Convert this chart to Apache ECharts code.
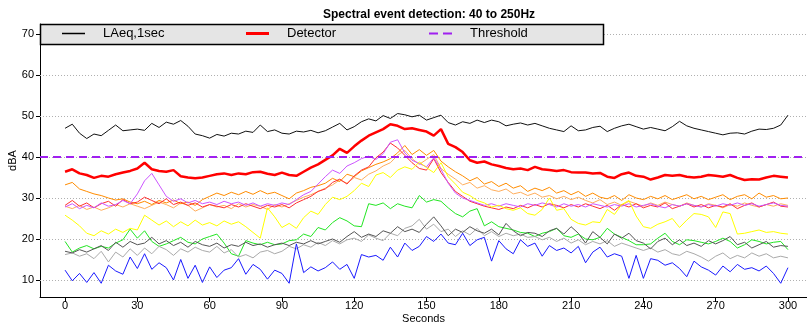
<!DOCTYPE html>
<html>
<head>
<meta charset="utf-8">
<script src="https://cdn.jsdelivr.net/npm/echarts@6/dist/echarts.min.js"></script>
<style>
  html, body { margin: 0; padding: 0; background: #fff; }
  #chart { width: 807px; height: 327px; }
</style>
</head>
<body>
<div id="chart"></div>
<script>
// sample times (every 3 s, 0..300)
const seconds = Array.from({ length: 101 }, (_, i) => i * 3)
const xTicks = [0, 30, 60, 90, 120, 150, 180, 210, 240, 270, 300]
const yTicks = [10, 20, 30, 40, 50, 60, 70]
const threshold = 40

// LAeq,1sec
const laeq = [
  47.0, 48.0, 45.8, 44.5, 45.6, 45.2, 46.5, 47.8, 46.4, 46.6,
  46.8, 46.5, 48.2, 47.2, 48.5, 48.0, 48.9, 47.5, 45.6, 45.2,
  44.6, 45.5, 45.1, 45.8, 45.6, 46.3, 46.0, 47.8, 46.2, 46.6,
  45.8, 45.6, 46.3, 46.1, 46.5, 45.9, 46.4, 47.3, 48.2, 46.6,
  47.4, 48.6, 49.3, 48.8, 50.1, 49.4, 50.6, 50.3, 49.8, 50.2,
  49.0, 49.6, 50.2, 48.4, 47.8, 48.6, 48.2, 49.0, 48.4, 49.0,
  48.6, 47.6, 48.0, 48.3, 47.8, 48.2, 47.6, 47.0, 46.6, 46.2,
  47.6, 46.4, 46.6, 47.2, 47.5, 46.2, 47.0, 47.6, 48.0, 47.4,
  46.8, 47.2, 46.8, 46.4, 47.4, 48.7, 47.6, 47.0, 46.6, 46.2,
  45.8, 45.4, 45.8, 45.9, 45.6, 46.3, 46.8, 46.7, 47.0, 47.8,
  50.2
]

// Detector
const detector = [
  36.4, 37.0, 36.0, 35.6, 34.9, 35.4, 35.2, 35.8, 36.2, 36.6,
  37.2, 38.6, 37.0, 36.6, 36.4, 36.8, 35.3, 35.0, 34.8, 35.0,
  35.4, 35.8, 36.0, 35.6, 36.0, 35.8, 36.3, 36.4, 35.9, 35.6,
  36.2, 35.6, 35.4, 36.4, 37.4, 38.2, 39.3, 40.4, 42.0, 41.0,
  42.6, 44.0, 45.2, 46.0, 46.8, 48.0, 47.6, 46.8, 47.0, 46.6,
  46.2, 45.2, 46.8, 43.2, 42.4, 41.2, 39.2, 38.6, 38.9, 38.2,
  37.8, 37.3, 37.0, 37.2, 36.8, 37.6, 37.0, 36.8, 36.6, 36.8,
  36.3, 36.2, 36.2, 36.0, 36.1, 35.2, 34.9, 35.8, 36.2, 35.4,
  35.2, 34.5, 35.0, 35.6, 35.4, 35.6, 35.2, 35.0, 35.2, 35.6,
  35.4, 35.2, 35.6, 34.9, 34.4, 34.6, 34.5, 35.0, 35.4, 35.2,
  35.0
]

// band levels
const orangeHi = [
  33.2, 33.8, 32.2, 31.6, 31.0, 30.6, 30.0, 29.5, 29.8, 29.0,
  28.6, 29.2, 28.4, 29.4, 28.8, 29.5, 28.6, 29.0, 28.2, 29.6,
  30.4, 31.2, 30.6, 31.4, 30.8, 31.6, 30.9, 31.8, 31.0, 31.4,
  30.6, 29.8, 31.2, 31.8, 32.6, 33.0, 33.6, 34.8, 34.0, 35.8,
  35.2, 36.6, 37.4, 38.2, 38.8, 39.6, 41.0, 42.8, 40.6, 41.8,
  40.4, 41.6, 39.0, 37.6, 36.4, 35.4, 34.2, 35.0, 33.4, 34.0,
  32.8, 33.6, 32.4, 33.0, 31.6, 32.4, 31.8, 32.6, 31.2, 31.8,
  30.8, 31.6, 30.4, 31.2, 30.2, 29.8, 30.6, 29.4, 30.8, 30.0,
  29.6, 30.4, 29.8, 30.6, 29.6, 30.2, 30.8, 29.8, 30.4, 29.6,
  30.2, 30.8, 29.6, 30.4, 30.8, 29.8, 31.2, 30.2, 30.6, 29.8,
  30.0
]
const orangeLo = [
  28.0, 27.4, 28.2, 27.2, 27.8, 27.0, 27.6, 28.4, 27.8, 28.6,
  28.0, 27.4, 28.2, 29.0, 28.4, 27.6, 28.8, 28.2, 26.8, 27.6,
  28.4, 27.8, 28.2, 27.4, 28.6, 27.8, 28.4, 28.0, 27.2, 28.4,
  27.8, 28.6, 29.4, 30.2, 30.8, 31.6, 32.4, 33.2, 34.4, 33.6,
  35.0, 34.4, 35.8, 36.6, 37.8, 38.6, 40.4, 41.6, 39.6, 38.2,
  39.4, 40.6, 37.2, 35.8, 34.6, 33.2, 33.8, 32.4, 33.0, 32.0,
  31.6, 32.2, 31.0, 31.4, 30.6, 31.2, 30.2, 30.6, 29.8, 30.4,
  29.6, 30.2, 29.4, 28.8, 29.6, 28.4, 29.0, 28.2, 29.2, 28.6,
  28.0, 28.8, 28.2, 29.0, 28.4, 28.0, 28.8, 28.2, 27.8, 28.6,
  28.2, 27.6, 28.4, 28.0, 28.8, 28.2, 27.8, 28.4, 28.0, 28.6,
  28.2
]
const redBand = [
  28.2, 29.4, 28.0, 28.8, 27.6, 28.6, 29.2, 28.0, 29.6, 28.6,
  29.0, 30.2, 29.4, 28.6, 29.8, 28.4, 29.0, 28.2, 28.8, 27.8,
  28.4, 28.0, 27.6, 28.4, 27.8, 28.6, 28.0, 27.4, 28.2, 27.8,
  28.4, 27.6, 28.8, 29.6, 30.4, 31.6, 32.2, 33.8, 34.6, 33.4,
  35.4, 36.8, 37.6, 39.8, 41.2, 43.4, 42.2, 40.4, 38.6, 37.2,
  36.8, 39.6, 36.2, 33.8, 31.6, 30.4, 29.2, 28.6, 28.0, 27.6,
  27.2, 27.8, 27.4, 28.2, 27.6, 28.4, 27.8, 28.6, 28.2, 27.6,
  28.4, 27.8, 28.6, 28.0, 27.4, 28.2, 27.0, 28.4, 27.8, 28.6,
  27.6, 28.2, 27.8, 28.8, 27.4, 28.0, 28.6, 27.8, 28.4, 27.6,
  28.2, 27.8, 28.6, 27.4, 28.2, 28.8, 27.8, 28.4, 29.0, 28.0,
  27.8
]
const violetBand = [
  27.8, 28.6, 27.4, 28.2, 27.6, 28.8, 28.0, 28.4, 29.4, 28.6,
  31.0, 34.2, 36.0, 33.2, 30.4, 29.2, 29.8, 28.8, 29.4, 28.6,
  29.0, 28.4, 29.2, 28.6, 29.0, 28.2, 28.8, 28.0, 28.6, 28.2,
  28.8, 28.4, 29.6, 30.8, 31.6, 33.4, 35.2, 36.8, 36.0, 37.8,
  38.6, 39.6, 40.2, 39.4, 40.8, 43.6, 44.2, 41.0, 39.2, 38.4,
  37.6, 39.8, 37.0, 33.6, 31.2, 30.0, 29.4, 28.8, 28.2, 28.6,
  28.0, 28.6, 28.2, 27.8, 28.6, 28.2, 28.8, 28.4, 27.8, 28.6,
  28.0, 28.4, 27.8, 28.6, 28.2, 27.8, 28.4, 28.0, 28.6, 27.8,
  28.2, 28.6, 28.0, 27.6, 28.4, 28.0, 28.6, 28.2, 27.8, 28.4,
  28.0, 28.6, 28.2, 28.8, 28.2, 28.6, 28.0, 28.4, 28.8, 28.2,
  28.0
]
const yellowBand = [
  25.8, 24.6, 23.2, 21.4, 20.8, 22.0, 21.2, 22.4, 21.6, 22.6,
  22.2, 25.8, 24.6, 23.4, 24.4, 23.0, 24.2, 23.2, 24.6, 23.4,
  24.0, 23.2, 24.4, 23.6, 24.2, 23.0, 21.6, 20.2, 27.6, 25.4,
  22.8, 23.8, 22.6, 25.2, 26.8, 26.0, 28.4, 30.2, 29.6, 30.4,
  31.8, 33.6, 32.8, 35.6, 36.2, 35.0, 36.8, 37.6, 37.0, 38.8,
  37.4, 36.2, 38.6, 35.2, 33.4, 31.4, 30.6, 29.4, 28.8, 27.8,
  28.2, 27.4, 27.0, 27.6, 26.2, 25.8, 27.2, 30.0, 27.0, 27.4,
  24.8, 23.8, 23.4, 24.2, 24.0, 27.2, 26.0, 28.4, 29.4, 25.6,
  23.0, 22.6, 23.6, 24.2, 25.0, 22.8, 24.6, 26.2, 26.0, 25.4,
  22.8, 26.6, 26.2, 21.2, 21.4, 21.8, 22.2, 21.6, 21.8, 21.4,
  21.2
]
const greenBand = [
  19.4, 16.8, 17.8, 18.4, 17.6, 18.2, 17.8, 19.0, 19.8, 22.4,
  20.2, 22.0, 19.4, 18.2, 18.8, 19.6, 20.4, 19.2, 18.8, 20.0,
  20.6, 21.2, 19.0, 16.4, 15.8, 19.6, 19.0, 18.6, 19.2, 18.6,
  18.8, 19.6, 19.8, 21.2, 20.6, 22.8, 22.2, 24.0, 25.2, 24.4,
  23.2, 23.0, 28.6, 28.2, 28.8, 27.4, 28.6, 28.0, 27.6, 30.6,
  29.0, 29.6, 29.2, 27.6, 26.2, 25.4, 26.8, 27.4, 23.2, 24.2,
  23.0, 22.6, 22.2, 21.6, 21.4, 20.6, 21.4, 21.8, 22.6, 20.8,
  20.4, 21.2, 20.0, 19.8, 20.4, 22.6, 21.2, 20.4, 19.6, 18.6,
  18.6, 18.8, 20.2, 21.4, 19.4, 18.6, 19.8, 19.6, 19.2, 18.8,
  19.4, 20.2, 19.4, 17.8, 18.6, 19.8, 19.4, 18.8, 19.2, 19.4,
  17.4
]
const darkGrayBand = [
  17.0, 16.6, 17.4, 16.8, 17.6, 18.4, 17.2, 19.2, 18.0, 19.4,
  18.6, 19.0, 20.4, 18.8, 19.6, 18.4, 19.2, 18.0, 19.4, 18.6,
  18.2, 19.0, 17.8, 18.6, 18.2, 19.2, 18.4, 18.8, 18.0, 18.6,
  19.0, 18.4, 19.2, 18.8, 19.6, 18.8, 19.4, 20.0, 19.2, 20.6,
  21.8, 20.4, 21.2, 20.6, 22.0, 21.4, 23.0, 21.8, 22.4, 21.6,
  23.6, 25.4, 23.2, 20.8, 22.4, 21.6, 23.0, 22.0, 21.4, 22.4,
  21.0, 23.8, 22.0, 20.8, 21.6, 21.4, 20.6, 22.0, 22.6, 21.2,
  23.0, 21.4, 19.0, 21.8, 20.4, 18.8, 21.2, 20.2, 21.4, 19.6,
  19.0, 17.6, 19.4, 20.2, 18.6, 19.8, 18.4, 19.0, 18.2, 19.6,
  18.8, 19.6, 20.6, 18.6, 19.2, 17.8, 18.6, 19.4, 18.0, 18.4,
  18.2
]
const lightGrayBand = [
  16.2, 16.6, 15.8, 16.4, 15.2, 17.0, 14.4, 16.8, 15.6, 17.6,
  16.0, 17.8, 16.4, 18.2, 17.4, 16.0, 17.6, 16.8, 18.0, 17.2,
  16.8, 18.2, 16.6, 17.4, 15.6, 16.2, 15.4, 16.8, 17.2, 16.4,
  17.0, 18.2, 17.6, 18.6, 18.0, 19.2, 18.4, 19.6, 18.8, 19.8,
  20.2, 19.4, 21.0, 20.2, 19.6, 21.4, 20.8, 22.6, 23.2, 24.8,
  22.4, 23.6, 21.8, 22.4, 20.6, 22.0, 21.0, 22.6, 20.8, 21.8,
  20.6, 21.4, 20.8, 21.2, 20.4, 20.6, 19.8, 20.4, 19.4, 20.2,
  19.0, 19.8, 18.6, 19.4, 18.8, 19.6, 18.2, 19.0, 18.4, 17.8,
  17.2, 17.8, 16.8, 17.4, 16.4, 16.0, 17.0, 16.4, 15.6, 14.6,
  15.8, 16.6, 15.2, 16.0, 15.4, 16.6, 15.8, 16.4, 15.4, 15.8,
  15.4
]
const blueBand = [
  12.4, 9.8, 11.6, 9.4, 11.8, 9.2, 13.6, 12.2, 11.4, 15.6,
  12.8, 16.4, 12.6, 14.2, 13.0, 10.0, 15.0, 10.4, 13.6, 9.4,
  13.2, 10.6, 12.4, 13.0, 15.2, 11.4, 13.8, 12.6, 10.2, 12.4,
  11.6, 9.2, 18.8, 11.8, 13.2, 12.2, 13.0, 14.4, 12.6, 13.8,
  10.4, 16.2, 15.6, 16.0, 14.8, 18.0, 15.6, 19.0, 17.2, 18.2,
  20.6, 19.4, 21.2, 19.0, 18.6, 21.4, 18.4, 19.8, 20.4, 14.6,
  19.6, 17.6, 16.4, 19.8, 18.2, 19.0, 15.8, 18.4, 17.2, 17.8,
  16.6, 18.2, 14.2, 16.8, 18.0, 15.6, 16.4, 15.8, 10.4, 16.0,
  10.4, 15.2, 14.8, 13.6, 14.2, 12.8, 10.8, 14.6, 13.2, 12.4,
  11.2, 13.4, 12.0, 13.8, 12.6, 13.0, 12.2, 13.4, 11.6, 9.2,
  13.0
]

const FONT = "'Liberation Sans', Arial, sans-serif"

const pair = vals => seconds.map((s, i) => [s, vals[i]])

const band = (name, vals, color) => ({
  name: name,
  type: 'line',
  data: pair(vals),
  symbol: 'none',
  lineStyle: { color: color, width: 1 },
  itemStyle: { color: color },
  z: 2
})

// legend entries: name, icon left edge, icon shape, icon height, colour
const legendItems = [
  { name: 'LAeq,1sec', left: 62, icon: 'path://M0,0h23v1.5h-23z', h: 1.5, color: '#000' },
  { name: 'Detector', left: 246, icon: 'path://M0,0h23v3h-23z', h: 3, color: '#ff0000' },
  { name: 'Threshold', left: 429, icon: 'path://M0,0h9v2h-9zM14,0h9v2h-9z', h: 2, color: '#a020f0' }
]

const chart = echarts.init(document.getElementById('chart'))

chart.setOption({
  animation: false,
  backgroundColor: '#fff',
  title: {
    text: 'Spectral event detection: 40 to 250Hz',
    left: 318,
    top: 4,
    textStyle: { fontFamily: FONT, fontSize: 12, fontWeight: 'bold', color: '#000' }
  },
  grid: { left: 40, right: 0, top: 24, bottom: 30, outerBoundsMode: 'none' },
  // grey legend panel, above the grid lines
  graphic: [{
    type: 'rect',
    z: 10,
    shape: { x: 40.5, y: 24.5, width: 563, height: 20 },
    style: { fill: '#e5e5e5', stroke: '#000', lineWidth: 1.5 }
  }],
  legend: legendItems.map(l => ({
    data: [l.name],
    left: l.left,
    top: 27,
    padding: 0,
    icon: l.icon,
    itemWidth: 23,
    itemHeight: l.h,
    itemStyle: { color: l.color, borderWidth: 0 },
    z: 11,
    formatter: n => '{s|}' + n,
    textStyle: {
      fontFamily: FONT, fontSize: 13, color: '#000',
      rich: { s: { width: 13 } }
    }
  })),
  xAxis: {
    type: 'value',
    min: -10.4,
    max: 307.9,
    name: 'Seconds',
    nameLocation: 'middle',
    nameGap: 16,
    nameMoveOverlap: false,
    nameTextStyle: { fontFamily: FONT, fontSize: 11, color: '#000' },
    axisLine: { show: true, onZero: false, lineStyle: { color: '#000', width: 1 } },
    axisTick: { show: true, length: 5, customValues: xTicks, lineStyle: { color: '#000' } },
    axisLabel: { customValues: xTicks, fontFamily: FONT, fontSize: 11, color: '#000', margin: 3 },
    splitLine: { show: false }
  },
  yAxis: {
    type: 'value',
    min: 5.85,
    max: 72.44,
    name: 'dBA',
    nameLocation: 'middle',
    nameGap: 22,
    nameRotate: 90,
    nameMoveOverlap: false,
    nameTextStyle: { fontFamily: FONT, fontSize: 11, color: '#000' },
    axisLine: { show: true, onZero: false, lineStyle: { color: '#000', width: 1 } },
    axisTick: { show: true, length: 4, customValues: yTicks, lineStyle: { color: '#000' } },
    axisLabel: { customValues: yTicks, fontFamily: FONT, fontSize: 11, color: '#000', margin: 6 },
    splitLine: { show: false }
  },
  series: [
    {
      name: 'grid',
      type: 'line',
      data: [],
      silent: true,
      z: 1,
      markLine: {
        z: 1,
        silent: true,
        symbol: 'none',
        label: { show: false },
        lineStyle: { color: '#b0b0b0', type: [1, 2], width: 1 },
        data: yTicks.map(v => ({ yAxis: v }))
      }
    },
    band('b250', orangeLo, '#ffae5c'),
    band('b200', orangeHi, '#ff8c00'),
    band('b160', redBand, '#ff3030'),
    band('b125', violetBand, '#cc55ff'),
    band('b100', yellowBand, '#ffff00'),
    band('b80', greenBand, '#22e622'),
    band('b63', lightGrayBand, '#aaaaaa'),
    band('b50', darkGrayBand, '#555555'),
    band('b40', blueBand, '#1a1aff'),
    {
      name: 'LAeq,1sec',
      type: 'line',
      data: pair(laeq),
      symbol: 'none',
      lineStyle: { color: '#111', width: 1 },
      itemStyle: { color: '#111' },
      z: 3
    },
    {
      name: 'Detector',
      type: 'line',
      data: pair(detector),
      symbol: 'none',
      lineStyle: { color: '#ff0000', width: 2.5 },
      itemStyle: { color: '#ff0000' },
      z: 3
    },
    {
      name: 'Threshold',
      type: 'line',
      data: [],
      symbol: 'none',
      lineStyle: { color: '#a020f0', width: 2, type: [8, 5] },
      itemStyle: { color: '#a020f0' },
      z: 3,
      markLine: {
        z: 4,
        silent: true,
        symbol: 'none',
        label: { show: false },
        lineStyle: { color: '#a020f0', width: 2, type: [8, 5] },
        data: [{ yAxis: threshold }]
      }
    }
  ]
})
</script>
</body>
</html>
